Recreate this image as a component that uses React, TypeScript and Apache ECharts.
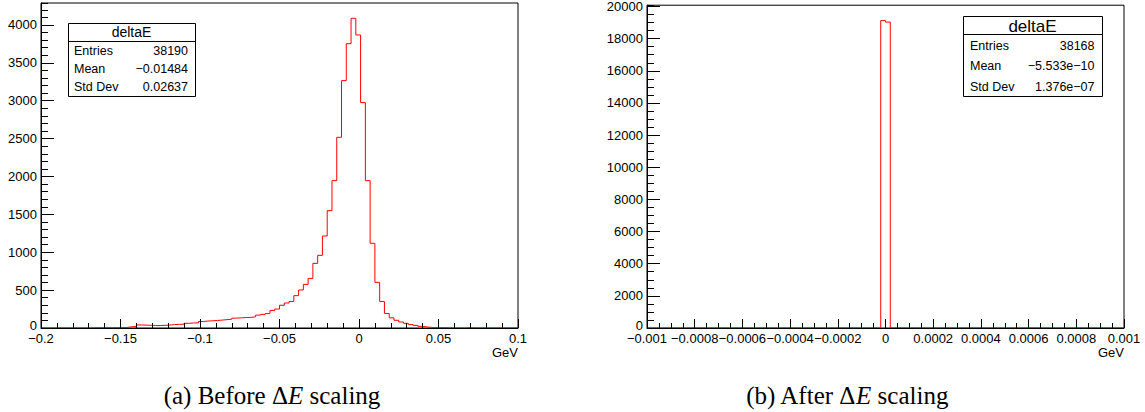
import React, { useEffect, useRef } from "react";
import * as echarts from "echarts";

// ---------- data ----------
const leftLo = -0.2;
const leftHi = 0.1;
const leftBinWidth = 0.003;
const leftCounts = [
  0, 0, 0, 0, 0, 0, 0, 0, 0, 0, 0,
  4, 3, 5, 4, 6, 5, 7,
  16, 19,
  40, 38, 36, 32, 33, 35, 38,
  45, 48, 50,
  62, 66, 68,
  85, 92, 95,
  100, 104,
  110, 116,
  130, 134, 138, 140, 148,
  170, 180,
  190,
  232, 250,
  300, 330, 350, 427, 502, 576, 655, 853, 959, 1214,
  1549, 1945, 2517, 3265, 3753, 4088, 3868, 2975, 1945, 1118,
  603, 350, 192, 134, 102, 79, 62, 45, 35, 22,
  13, 8, 4, 5, 4,
  0, 0, 0, 0, 4,
  0, 0, 0, 0, 0, 0, 0, 0, 0, 0,
];
const leftYMax = 4290;
const leftXTicks = { interval: 0.05, minorSplit: 5 };
const leftYTicks = { major: 500, minor: 100 };

const rightLo = -0.001;
const rightHi = 0.001;
const rightEdges = [-0.001, -0.00002, 0, 0.00002, 0.001];
const rightCounts = [0, 19125, 19030, 0];
const rightYMax = 20080;
const rightXTicks = { interval: 0.0002, minorSplit: 4 };
const rightYTicks = { major: 2000, minor: 500 };

const leftStats = { title: "deltaE", rows: [["Entries", "38190"], ["Mean", "\u22120.01484"], ["Std Dev", "0.02637"]] };
const rightStats = { title: "deltaE", rows: [["Entries", "38168"], ["Mean", "\u22125.533e\u221210"], ["Std Dev", "1.376e\u221207"]] };

const xUnit = "GeV";
const captionA = ["(a) Before \u0394", "E", " scaling"];
const captionB = ["(b) After \u0394", "E", " scaling"];

// ---------- helpers ----------
const SANS = '"Liberation Sans", Arial, Helvetica, sans-serif';
const SERIF = '"Liberation Serif", "Times New Roman", serif';

function fmt(v: number): string {
  const s = Math.abs(v) < 1e-12 ? "0" : String(+Number(v).toPrecision(6));
  return s.replace("-", "\u2212");
}

function fmtY(v: number): string {
  return Math.abs(v) < 1e-9 ? "{z|0}" : fmt(v);
}

function xAxisCfg(gridIndex: number, min: number, max: number, t: { interval: number; minorSplit: number }) {
  return {
    type: "value",
    gridIndex,
    min,
    max,
    interval: t.interval,
    z: 5,
    axisLine: { show: true, onZero: false, lineStyle: { color: "#000", width: 1 } },
    axisTick: { show: true, inside: true, length: 9, lineStyle: { color: "#000", width: 1 } },
    minorTick: { show: true, splitNumber: t.minorSplit, length: 5, lineStyle: { color: "#000", width: 1 } },
    splitLine: { show: false },
    minorSplitLine: { show: false },
    axisLabel: {
      show: true,
      margin: 4,
      fontSize: 13,
      fontFamily: SANS,
      color: "#000",
      formatter: fmt,
      showMinLabel: true,
      showMaxLabel: true,
      hideOverlap: false,
    },
  };
}

function yAxisMajor(gridIndex: number, max: number, interval: number) {
  return {
    type: "value",
    gridIndex,
    position: "left",
    min: 0,
    max,
    interval,
    z: 5,
    axisLine: { show: true, onZero: false, lineStyle: { color: "#000", width: 1 } },
    axisTick: { show: true, inside: true, length: 13, lineStyle: { color: "#000", width: 1 } },
    splitLine: { show: false },
    axisLabel: {
      show: true,
      margin: 4,
      fontSize: 13,
      fontFamily: SANS,
      color: "#000",
      formatter: fmtY,
      showMaxLabel: false,
      showMinLabel: true,
      rich: { z: { fontSize: 13, fontFamily: SANS, color: "#000", padding: [0, 0, 5, 0] } },
    },
  };
}

function yAxisMinor(gridIndex: number, max: number, interval: number) {
  return {
    type: "value",
    gridIndex,
    position: "left",
    offset: 0,
    min: 0,
    max,
    interval,
    z: 5,
    axisLine: { show: false, onZero: false },
    axisTick: { show: true, inside: true, length: 7, lineStyle: { color: "#000", width: 1 } },
    splitLine: { show: false },
    axisLabel: { show: false },
  };
}

function stepData(edges: number[], counts: number[]) {
  const pts: number[][] = counts.map((c, i) => [edges[i], c]);
  pts.push([edges[edges.length - 1], counts[counts.length - 1]]);
  return pts;
}

function txt(x: number, y: number, text: string, size: number, align: string, family = SANS) {
  return {
    type: "text",
    x,
    y,
    z: 100,
    silent: true,
    style: {
      text,
      font: `${size}px ${family}`,
      fill: "#000",
      align,
      textAlign: align,
      verticalAlign: "middle",
      textVerticalAlign: "middle",
    },
  };
}

function statsBox(x0: number, y0: number, x1: number, y1: number, yDiv: number, titleY: number, titleSize: number, rowYs: number[], labelX: number, valueX: number, s: { title: string; rows: string[][] }) {
  const els: any[] = [
    {
      type: "rect",
      z: 90,
      silent: true,
      shape: { x: x0 + 0.5, y: y0 + 0.5, width: x1 - x0, height: y1 - y0 },
      style: { fill: "#fff", stroke: "#000", lineWidth: 1 },
    },
    {
      type: "line",
      z: 91,
      silent: true,
      shape: { x1: x0 + 0.5, y1: yDiv + 0.5, x2: x1 + 0.5, y2: yDiv + 0.5 },
      style: { stroke: "#000", lineWidth: 1 },
    },
    txt((x0 + x1) / 2, titleY, s.title, titleSize, "center"),
  ];
  s.rows.forEach((r, i) => {
    els.push(txt(labelX, rowYs[i], r[0], 12.5, "left"));
    els.push(txt(valueX, rowYs[i], r[1], 12.5, "right"));
  });
  return els;
}

function caption(cx: number, y: number, parts: string[]) {
  return {
    type: "text",
    x: cx,
    y,
    z: 100,
    silent: true,
    style: {
      text: `${parts[0]}{e|${parts[1]}}${parts[2]}`,
      font: `25px ${SERIF}`,
      fill: "#000",
      align: "center",
      textAlign: "center",
      verticalAlign: "middle",
      textVerticalAlign: "middle",
      rich: {
        e: { font: `italic 25px ${SERIF}`, fontStyle: "italic", fontSize: 25, fontFamily: SERIF, fill: "#000" },
      },
    },
  };
}

export default function App() {
  const ref = useRef<HTMLDivElement>(null);
  useEffect(() => {
    if (!ref.current) return;
    const chart = echarts.init(ref.current, null, { renderer: "svg" });
    const leftEdges = leftCounts.map((_, i) => leftLo + i * leftBinWidth).concat([leftHi]);
    const option: any = {
      animation: false,
      backgroundColor: "#fff",
      grid: [
        { left: 41, top: 3, width: 477, height: 325, show: true, borderColor: "#000", borderWidth: 1, backgroundColor: "transparent" },
        { left: 647, top: 3, width: 477, height: 325, show: true, borderColor: "#000", borderWidth: 1, backgroundColor: "transparent" },
      ],
      xAxis: [xAxisCfg(0, leftLo, leftHi, leftXTicks), xAxisCfg(1, rightLo, rightHi, rightXTicks)],
      yAxis: [
        yAxisMajor(0, leftYMax, leftYTicks.major),
        yAxisMinor(0, leftYMax, leftYTicks.minor),
        yAxisMajor(1, rightYMax, rightYTicks.major),
        yAxisMinor(1, rightYMax, rightYTicks.minor),
      ],
      series: [
        {
          type: "line",
          xAxisIndex: 0,
          yAxisIndex: 0,
          step: "end",
          showSymbol: false,
          symbol: "none",
          z: 2,
          lineStyle: { color: "#ff0000", width: 1 },
          data: stepData(leftEdges, leftCounts),
        },
        {
          type: "line",
          xAxisIndex: 1,
          yAxisIndex: 2,
          step: "end",
          showSymbol: false,
          symbol: "none",
          z: 2,
          lineStyle: { color: "#ff0000", width: 1 },
          data: stepData(rightEdges, rightCounts),
        },
      ],
      graphic: [
        ...statsBox(68, 23, 195, 96, 41, 32.3, 14, [51, 69, 87.3], 74, 188, leftStats),
        ...statsBox(963, 16, 1102, 96, 34, 26.5, 17, [45.7, 65.7, 86.7], 970, 1094.5, rightStats),
        txt(518, 352, xUnit, 13, "right"),
        txt(1124, 352, xUnit, 13, "right"),
        caption(272, 395, captionA),
        caption(847, 395, captionB),
      ],
    };
    chart.setOption(option);
    return () => chart.dispose();
  }, []);
  return (
    <div
      ref={ref}
      style={{ position: "fixed", left: 0, top: 0, width: 1145, height: 412, background: "#fff" }}
    />
  );
}
